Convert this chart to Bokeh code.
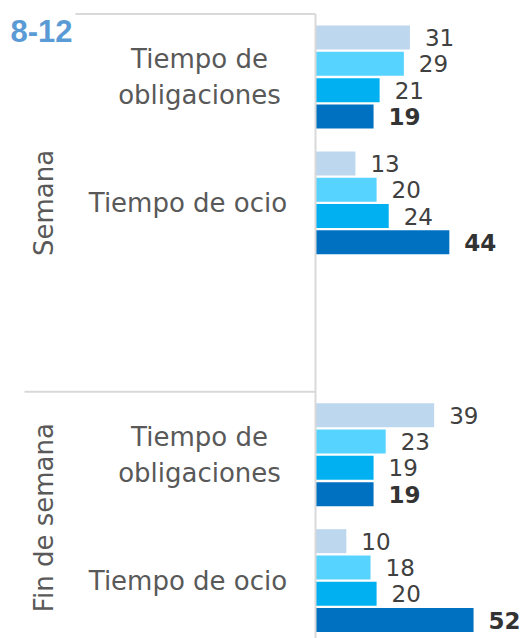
import math
from bokeh.plotting import figure
from bokeh.models import Range1d
from bokeh.core.properties import value
from bokeh.embed import file_html
from bokeh.resources import INLINE

# ---------------- data ----------------
title_text = "8-12"
groups = ["Semana", "Fin de semana"]
group_slots = [3, 2]            # Semana has one blank slot below its two categories
categories = ["Tiempo de\nobligaciones", "Tiempo de ocio"]
# values per series, order: Semana-obligaciones, Semana-ocio, Fin-obligaciones, Fin-ocio
serie_1 = [31, 13, 39, 10]
serie_2 = [29, 20, 23, 18]
serie_3 = [21, 24, 19, 20]
serie_4 = [19, 44, 19, 52]
series = [serie_1, serie_2, serie_3, serie_4]
colors = ["#BDD7EE", "#57D3FF", "#00B0F0", "#0070C0"]

# ---------------- layout helpers (page pixels -> data) ----------------
W, H = 528, 638
X0_PX, PX_PER_UNIT = 315.5, 3.03
SLOT0_PX, SLOT_PX = 76.5, 125.9

def xd(px):
    return (px - X0_PX) / PX_PER_UNIT

def yd(py):
    return (py - SLOT0_PX) / SLOT_PX

p = figure(width=W, height=H, output_backend="svg", toolbar_location=None,
           x_range=Range1d(xd(0), xd(W)), y_range=Range1d(yd(H), yd(0)),
           min_border=0, outline_line_color=None)
p.axis.visible = False
p.grid.visible = False
p.background_fill_color = "white"
p.border_fill_color = "white"

# slot indices of categories
cat_slots = []
group_centers = []
start = 0
for g, n in zip(groups, group_slots):
    group_centers.append(start + (n - 1) / 2)
    cat_slots.extend([start + k for k in range(len(categories))])
    start += n
cat_names = categories * len(groups)

bar_pitch = 26.3 / SLOT_PX
bar_h = 24.0 / SLOT_PX
font = "DejaVu Sans"

for j, (vals, col) in enumerate(zip(series, colors)):
    ys = [s + (j - 1.5) * bar_pitch for s in cat_slots]
    p.hbar(y=ys, left=0, right=vals, height=bar_h, fill_color=col, line_color=None)
    bold = (j == len(series) - 1)
    p.text(x=[v + 15 / PX_PER_UNIT for v in vals], y=ys, text=[str(v) for v in vals],
           text_font=value(font), text_font_size="23px",
           text_font_style="bold" if bold else "normal",
           text_color="#333333" if bold else "#404040",
           text_align="left", text_baseline="middle")

# category labels
label_cx = {"Tiempo de\nobligaciones": 199, "Tiempo de ocio": 187.5}
p.text(x=[xd(label_cx[c]) for c in cat_names], y=cat_slots, text=cat_names,
       text_font=value(font), text_font_size="26px", text_color="#595959",
       text_align="center", text_baseline="middle", text_line_height=1.2)

# group labels (rotated)
p.text(x=[xd(43)] * len(groups), y=group_centers, text=groups, angle=math.pi / 2,
       text_font=value(font), text_font_size="26px", text_color="#595959",
       text_align="center", text_baseline="middle")

# separator lines
grid_col = "#D9D9D9"
bounds = [-0.5]
acc = -0.5
for n in group_slots:
    acc += n
    bounds.append(acc)
p.segment(x0=[xd(75), xd(24)], y0=[bounds[0], bounds[1]],
          x1=[xd(315), xd(315)], y1=[bounds[0], bounds[1]],
          line_color=grid_col, line_width=2)
p.segment(x0=[xd(315)], y0=[bounds[0]], x1=[xd(315)], y1=[bounds[-1] + 0.2],
          line_color=grid_col, line_width=2)

# title
p.text(x=[xd(10)], y=[yd(30)], text=[title_text], text_font=value("Liberation Sans"),
       text_font_size="31px", text_font_style="bold", text_color="#5B9BD5",
       text_align="left", text_baseline="alphabetic")

open("out.html", "w").write(file_html(p, INLINE))
